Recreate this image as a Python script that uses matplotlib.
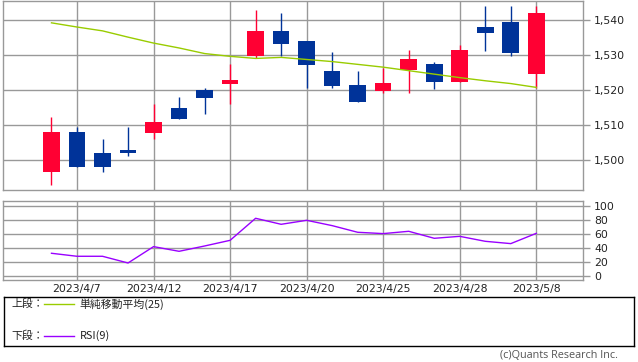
import matplotlib
matplotlib.use("Agg")
import matplotlib.pyplot as plt
import numpy as np
from matplotlib.ticker import FuncFormatter

# ---------------- data ----------------
dates = ['2023/4/6', '2023/4/7', '2023/4/10', '2023/4/11', '2023/4/12', '2023/4/13',
         '2023/4/14', '2023/4/17', '2023/4/18', '2023/4/19', '2023/4/20', '2023/4/21',
         '2023/4/24', '2023/4/25', '2023/4/26', '2023/4/27', '2023/4/28', '2023/5/1',
         '2023/5/2', '2023/5/8']
opens  = [1496.7, 1508.0, 1502.0, 1502.9, 1507.8, 1514.9, 1520.0, 1521.8, 1529.8, 1536.9,
          1534.0, 1525.4, 1521.4, 1519.8, 1525.8, 1527.4, 1522.4, 1538.0, 1539.4, 1524.7]
highs  = [1512.4, 1509.5, 1506.0, 1509.5, 1516.0, 1518.0, 1520.6, 1527.4, 1542.9, 1542.0,
          1534.0, 1530.9, 1525.4, 1526.4, 1531.4, 1528.0, 1532.9, 1544.0, 1544.0, 1544.0]
lows   = [1492.7, 1498.1, 1496.7, 1501.2, 1506.0, 1511.8, 1513.2, 1516.1, 1529.3, 1529.8,
          1520.7, 1520.7, 1516.7, 1519.2, 1519.2, 1520.4, 1522.4, 1531.2, 1529.9, 1520.7]
closes = [1508.0, 1498.1, 1498.1, 1502.0, 1510.9, 1511.8, 1517.8, 1522.9, 1536.9, 1533.2,
          1527.2, 1521.2, 1516.7, 1522.0, 1528.9, 1522.4, 1531.4, 1536.4, 1530.7, 1542.0]
sma25  = [1539.3, 1538.1, 1537.0, 1535.2, 1533.5, 1532.1, 1530.5, 1529.7, 1529.1, 1529.4,
          1528.8, 1528.2, 1527.4, 1526.6, 1525.6, 1524.6, 1523.6, 1522.7, 1521.9, 1520.8]
rsi9   = [32.9, 28.6, 28.6, 19.0, 42.4, 35.7, 43.3, 51.4, 82.9, 74.3,
          80.0, 72.4, 62.9, 61.0, 64.3, 54.3, 57.1, 50.0, 46.7, 61.4]
price_ticks = [1500, 1510, 1520, 1530, 1540]
rsi_ticks = [0, 20, 40, 60, 80, 100]
label_every = 3
label_start = 1

UP = '#ff0033'
DOWN = '#003399'
GRID = '#999999'
MA_C = '#99cc00'
RSI_C = '#9900ff'

plt.rcParams['font.family'] = ['DejaVu Sans']

fig = plt.figure(figsize=(6.38, 3.62), dpi=100)
W, H = 638, 362

def ax_rect(x0, y0, x1, y1):
    return [x0 / W, 1 - y1 / H, (x1 - x0) / W, (y1 - y0) / H]

x = np.arange(len(dates))
tick_idx = list(range(label_start, len(dates), label_every))
tick_lab = [dates[i] for i in tick_idx]

# ---------------- price panel ----------------
ax = fig.add_axes(ax_rect(3, 0.5, 583, 190))
o = np.array(opens); c = np.array(closes)
cols = [UP if cc >= oo else DOWN for oo, cc in zip(o, c)]
ax.vlines(x, lows, highs, colors=cols, lw=1.0, zorder=3)
ax.bar(x, np.abs(c - o), bottom=np.minimum(o, c), width=0.65, color=cols, zorder=4,
       linewidth=0)
ax.plot(x, sma25, color=MA_C, lw=1.0, zorder=5)
ax.set_xlim(-1.9, 20.83)
ax.set_ylim(1491.4, 1545.7)
ax.set_xticks(tick_idx)
ax.set_xticklabels([])
ax.set_yticks(price_ticks)
ax.yaxis.set_major_formatter(FuncFormatter(lambda v, p: f'{int(v):,}'))
ax.yaxis.tick_right()
ax.tick_params(axis='y', length=5, width=1, color=GRID, labelsize=7.8, pad=3,
               labelcolor='#222222')
ax.tick_params(axis='x', length=0)
ax.grid(True, color=GRID, lw=1.0, zorder=0)
ax.set_axisbelow(True)
for s in ax.spines.values():
    s.set_color(GRID)
    s.set_linewidth(1.0)

# ---------------- RSI panel ----------------
ax2 = fig.add_axes(ax_rect(3, 201, 583, 280))
ax2.plot(x, rsi9, color=RSI_C, lw=1.0, zorder=3)
ax2.set_xlim(-1.9, 20.83)
ax2.set_ylim(-5.3, 107.6)
ax2.set_yticks(rsi_ticks)
ax2.yaxis.tick_right()
ax2.tick_params(axis='y', length=5, width=1, color=GRID, labelsize=7.8, pad=3,
                labelcolor='#222222')
ax2.set_xticks(tick_idx)
ax2.set_xticklabels(tick_lab)
ax2.tick_params(axis='x', length=0, labelsize=7.8, pad=3, labelcolor='#222222')
ax2.grid(True, color=GRID, lw=1.0, zorder=0)
ax2.set_axisbelow(True)
for s in ax2.spines.values():
    s.set_color(GRID)
    s.set_linewidth(1.0)

# ---------------- legend panel ----------------
ax3 = fig.add_axes(ax_rect(3.5, 296.5, 634, 346))
ax3.set_xlim(0, 630.5)
ax3.set_ylim(49.5, 0)
ax3.set_xticks([]); ax3.set_yticks([])
for s in ax3.spines.values():
    s.set_color('black')
    s.set_linewidth(1.0)
jp = ['Noto Sans CJK JP', 'DejaVu Sans']
ax3.text(8, 7.5, '上段：', fontsize=7.8, family=jp, va='center', ha='left', color='#222222')
ax3.plot([40, 70], [7.5, 7.5], color=MA_C, lw=1.0)
ax3.text(76, 7.5, '単純移動平均(25)', fontsize=7.8, family=jp, va='center', ha='left',
         color='#222222')
ax3.text(8, 39.5, '下段：', fontsize=7.8, family=jp, va='center', ha='left', color='#222222')
ax3.plot([40, 70], [39.5, 39.5], color=RSI_C, lw=1.0)
ax3.text(76, 39.5, 'RSI(9)', fontsize=7.8, family=jp, va='center', ha='left', color='#222222')

fig.text(618 / W, 1 - 358.5 / H, '(c)Quants Research Inc.', fontsize=7.8, ha='right',
         va='baseline', color='#555555', family=['Open Sans', 'DejaVu Sans'])

fig.savefig('out.png', dpi=100)
